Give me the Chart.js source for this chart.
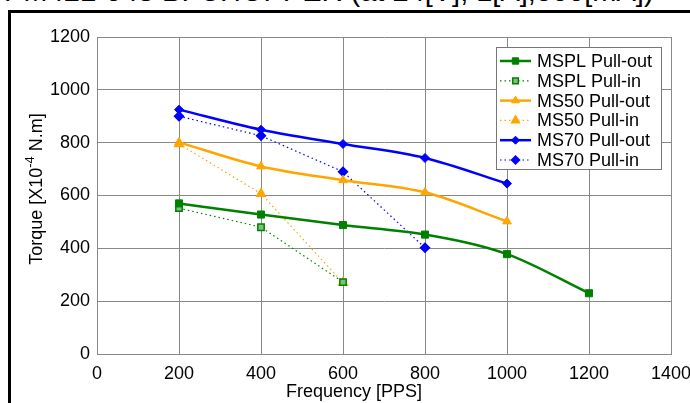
<!DOCTYPE html>
<html>
<head>
<meta charset="utf-8">
<script src="https://cdn.jsdelivr.net/npm/chart.js@4"></script>
<style>
  body { margin: 0; background: #fff; }
  #wrap { position: relative; width: 690px; height: 403px; overflow: hidden; }
  #title { position: absolute; left: 4px; top: -22px; font: 29px "Liberation Sans", Arial, sans-serif; line-height: 26px; white-space: nowrap; color: #000; }
  #frame { position: absolute; left: 8px; top: 10px; width: 720px; height: 440px; border: 3px solid #000; }
  canvas { position: absolute; left: 0; top: 0; }
</style>
</head>
<body>
<div id="wrap">
  <div id="title">PM42L-048 BI-CHOPPER (at 24[V], 1[A],500[mA])</div>
  <div id="frame"></div>
  <canvas id="torqueChart" width="690" height="403"></canvas>
</div>
<script>
// Frequency points [PPS]
const freqs = [200, 400, 600, 800, 1000, 1200];

// Torque values [x10^-4 N.m]
const msplPullOut = [570, 528, 488, 452, 378, 230];
const msplPullIn  = [552, 480, 272];
const ms50PullOut = [801, 710, 658, 612, 502];
const ms50PullIn  = [795, 607, 270];
const ms70PullOut = [925, 849, 795, 742, 645];
const ms70PullIn  = [900, 826, 690, 402];

const xTicks = [0, 200, 400, 600, 800, 1000, 1200, 1400];
const yTicks = [0, 200, 400, 600, 800, 1000, 1200];

const FONT = '"Liberation Sans", Arial, sans-serif';

function toPoints(values) {
    return values.map((v, i) => ({ x: freqs[i], y: v }));
}

function solid(label, values, color, style, radius) {
    return {
        label: label,
        data: toPoints(values),
        borderColor: color,
        backgroundColor: color,
        borderWidth: 2.5,
        pointStyle: style,
        pointRadius: radius,
        pointBorderWidth: 1,
        cubicInterpolationMode: 'monotone',
        showLine: true
    };
}

function dotted(label, values, color, style, radius, fill) {
    return {
        label: label,
        data: toPoints(values),
        borderColor: color,
        backgroundColor: fill,
        pointBorderColor: color,
        borderWidth: 1.2,
        borderDash: [1.5, 3],
        pointStyle: style,
        pointRadius: radius,
        pointBorderWidth: 1.5,
        tension: 0,
        showLine: true
    };
}

// Legend drawn inside the plot, MATLAB style (line + marker sample)
const insideLegend = {
    id: 'insideLegend',
    afterDraw(chart) {
        const ctx = chart.ctx;
        const box = { x: 496, y: 47, w: 165, h: 122 };
        ctx.save();
        ctx.fillStyle = '#fff';
        ctx.fillRect(box.x, box.y, box.w, box.h);
        ctx.strokeStyle = '#777';
        ctx.lineWidth = 1;
        ctx.strokeRect(box.x + 0.5, box.y + 0.5, box.w, box.h);
        ctx.font = '18px ' + FONT;
        ctx.textBaseline = 'middle';
        chart.data.datasets.forEach((ds, i) => {
            const y = 61 + i * 19.8;
            ctx.save();
            ctx.strokeStyle = ds.borderColor;
            ctx.lineWidth = ds.borderWidth;
            ctx.setLineDash(ds.borderDash || []);
            ctx.beginPath();
            ctx.moveTo(500, y);
            ctx.lineTo(531, y);
            ctx.stroke();
            ctx.restore();
            ctx.save();
            ctx.fillStyle = ds.backgroundColor;
            ctx.strokeStyle = ds.pointBorderColor || ds.borderColor;
            ctx.lineWidth = ds.pointBorderWidth;
            Chart.helpers.drawPoint(ctx, { pointStyle: ds.pointStyle, radius: ds.pointRadius - 0.5, borderWidth: ds.pointBorderWidth, rotation: 0 }, 515.5, y);
            ctx.restore();
            ctx.fillStyle = '#000';
            ctx.fillText(ds.label, 537, y + 1);
        });
        ctx.restore();
    }
};

// Axis titles (the y one needs a superscript)
const axisTitles = {
    id: 'axisTitles',
    afterDraw(chart) {
        const ctx = chart.ctx;
        ctx.save();
        ctx.fillStyle = '#000';
        ctx.font = '18px ' + FONT;
        ctx.textAlign = 'center';
        ctx.textBaseline = 'alphabetic';
        ctx.fillText('Frequency [PPS]', 354, 397);

        ctx.translate(42, 189);
        ctx.rotate(-Math.PI / 2);
        const part1 = 'Torque [X10';
        const sup = '-4';
        const part2 = ' N.m]';
        ctx.font = '18px ' + FONT;
        const w1 = ctx.measureText(part1).width;
        const w3 = ctx.measureText(part2).width;
        ctx.font = '13px ' + FONT;
        const w2 = ctx.measureText(sup).width;
        let x = -(w1 + w2 + w3) / 2;
        ctx.textAlign = 'left';
        ctx.font = '18px ' + FONT;
        ctx.fillText(part1, x, 0);
        x += w1;
        ctx.font = '13px ' + FONT;
        ctx.fillText(sup, x, -8);
        x += w2;
        ctx.font = '18px ' + FONT;
        ctx.fillText(part2, x, 0);
        ctx.restore();
    }
};

const ctx = document.getElementById('torqueChart').getContext('2d');

new Chart(ctx, {
    type: 'scatter',
    data: {
        datasets: [
            solid('MSPL Pull-out', msplPullOut, '#008000', 'rect', 5),
            dotted('MSPL Pull-in', msplPullIn, '#008000', 'rect', 4.5, '#7fbf7f'),
            solid('MS50 Pull-out', ms50PullOut, '#FFA500', 'triangle', 5),
            dotted('MS50 Pull-in', ms50PullIn, '#FFA500', 'triangle', 5, '#FFA500'),
            solid('MS70 Pull-out', ms70PullOut, '#0000FF', 'rectRot', 4.5),
            dotted('MS70 Pull-in', ms70PullIn, '#0000FF', 'rectRot', 4.5, '#0000FF')
        ]
    },
    options: {
        responsive: false,
        animation: false,
        layout: {
            autoPadding: false,
            padding: { left: 0, right: 19, top: 37, bottom: 0 }
        },
        plugins: {
            legend: { display: false },
            tooltip: { enabled: false }
        },
        scales: {
            x: {
                type: 'linear',
                min: 0,
                max: 1400,
                afterFit: s => { s.height = 49; s.paddingLeft = 0; s.paddingRight = 0; },
                afterBuildTicks: s => { s.ticks = xTicks.map(v => ({ value: v })); },
                grid: { color: '#888', lineWidth: 1, drawTicks: false },
                border: { color: '#888' },
                ticks: {
                    color: '#000',
                    font: { family: FONT, size: 18 },
                    padding: 9,
                    maxRotation: 0,
                    callback: v => String(v)
                }
            },
            y: {
                min: 0,
                max: 1200,
                afterFit: s => { s.width = 97; s.paddingTop = 0; s.paddingBottom = 0; },
                afterBuildTicks: s => { s.ticks = yTicks.map(v => ({ value: v })); },
                grid: { color: '#888', lineWidth: 1, drawTicks: false },
                border: { color: '#888' },
                ticks: {
                    color: '#000',
                    font: { family: FONT, size: 18 },
                    padding: 7,
                    callback: v => String(v)
                }
            }
        }
    },
    plugins: [insideLegend, axisTitles]
});
</script>
</body>
</html>
